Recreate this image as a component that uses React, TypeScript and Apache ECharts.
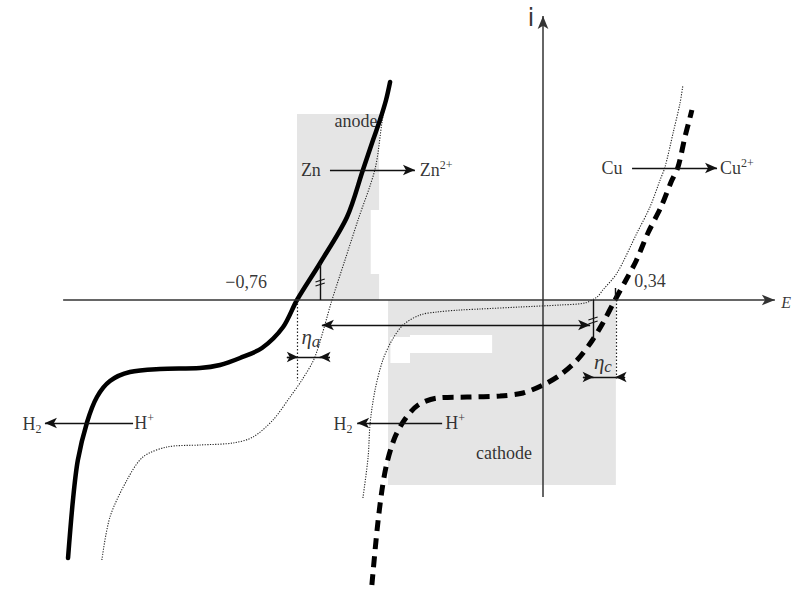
import React, { useEffect, useRef } from "react";
import * as echarts from "echarts";

type P = [number, number];

// Potential E (V) and current i (arbitrary units)
const X_MIN = -1.78736;
const X_MAX = 0.97994;
const Y_MIN = -29.7;
const Y_MAX = 30;

// Zn electrode: total polarisation curve (thick solid)
const zincCurve: P[] = [
  [-1.552, -25.8], [-1.535, -20.0], [-1.518, -16.0], [-1.486, -12.2], [-1.452, -9.7],
  [-1.407, -8.1], [-1.338, -7.2], [-1.234, -6.9], [-1.096, -6.8], [-1.026, -6.5],
  [-0.957, -5.8], [-0.881, -4.8], [-0.808, -2.7], [-0.760, 0], [-0.680, 3.7],
  [-0.587, 8.3], [-0.532, 13.0], [-0.497, 16.0], [-0.473, 18.0], [-0.452, 20.0], [-0.438, 21.8],
];

// Zn electrode: shifted curve (thin dotted)
const zincShifted: P[] = [
  [-1.435, -26.0], [-1.407, -21.7], [-1.348, -18.0], [-1.293, -15.7], [-1.210, -14.7],
  [-1.096, -14.5], [-0.981, -14.3], [-0.912, -13.7], [-0.843, -12.0], [-0.784, -9.7],
  [-0.743, -8.0], [-0.698, -5.7], [-0.639, 0], [-0.594, 4.0], [-0.549, 8.0],
  [-0.490, 13.1], [-0.466, 17.8], [-0.459, 19.0],
];

// Cu electrode: total polarisation curve (thick dashed)
const copperCurve: P[] = [
  [-0.501, -28.5], [-0.483, -23.0], [-0.466, -19.0], [-0.449, -16.3], [-0.421, -13.7],
  [-0.386, -11.9], [-0.341, -10.5], [-0.276, -9.8], [-0.172, -9.7], [-0.058, -9.6],
  [0.022, -9.3], [0.091, -8.5], [0.150, -7.5], [0.209, -6.0], [0.260, -4.1],
  [0.298, -2.3], [0.340, 0], [0.378, 2.0], [0.413, 3.9], [0.454, 6.7],
  [0.499, 9.3], [0.534, 11.8], [0.558, 13.3], [0.582, 16.3], [0.599, 18.2], [0.606, 19.0],
];

// Cu electrode: shifted curve (thin dotted)
const copperShifted: P[] = [
  [-0.532, -19.8], [-0.514, -15.7], [-0.507, -12.3], [-0.490, -9.0], [-0.463, -6.0],
  [-0.431, -4.0], [-0.393, -2.5], [-0.335, -1.5], [-0.276, -1.2], [-0.196, -1.0],
  [-0.127, -0.9], [0.011, -0.7], [0.150, -0.5], [0.236, -0.3], [0.278, 0.3],
  [0.298, 1.0], [0.347, 2.7], [0.416, 6.7], [0.461, 9.3], [0.496, 12.0],
  [0.513, 13.3], [0.541, 16.7], [0.565, 19.7], [0.575, 21.5],
];

// Shaded zones (anode / cathode) and blank patches inside them
const grayZones: [P, P][] = [
  [[-0.760, 18.6], [-0.476, 0]],
  [[-0.445, 0], [0.343, -18.5]],
];
const blankPatches: [P, P][] = [
  [[-0.505, 9.0], [-0.473, 2.6]],
  [[-0.369, -3.5], [-0.085, -5.3]],
  [[-0.437, -3.7], [-0.369, -6.3]],
];

// Axes (with arrow at the end)
const axisLines: [P, P][] = [
  [[-1.569, 0], [0.893, 0]],
  [[0.091, -19.7], [0.091, 28.4]],
];

// Reaction arrows (head at the end)
const reactionArrows: [P, P][] = [
  [[-0.646, 13.0], [-0.352, 13.0]],
  [[0.399, 13.2], [0.693, 13.2]],
  [[-1.327, -12.3], [-1.632, -12.3]],
  [[-0.258, -12.3], [-0.552, -12.3]],
];

// Double arrow between the two mixed potentials
const doubleArrows: [P, P][] = [[[-0.674, -2.5], [0.254, -2.5]]];

// Overpotential dimension lines and their inward heads
const etaLines: [P, P][] = [
  [[-0.795, -5.7], [-0.646, -5.7]],
  [[0.229, -7.7], [0.375, -7.7]],
];
const etaHeads: [P, P][] = [
  [[-0.795, -5.7], [-0.757, -5.7]],
  [[-0.646, -5.7], [-0.682, -5.7]],
  [[0.229, -7.7], [0.266, -7.7]],
  [[0.375, -7.7], [0.342, -7.7]],
];

// Solid ticks and slash marks
const ticks: [P, P][] = [
  [[-0.680, 3.7], [-0.680, 0]],
  [[0.264, 0], [0.264, -4.0]],
  [[0.340, 1.2], [0.340, 0]],
];
const slashes: [P, P][] = [
  [[-0.696, 1.8], [-0.664, 2.1]],
  [[-0.696, 1.4], [-0.664, 1.7]],
  [[0.248, -2.0], [0.280, -1.7]],
  [[0.248, -2.4], [0.280, -2.1]],
];

// Dotted guides
const guides: [P, P][] = [
  [[-0.760, 0], [-0.760, -8.1]],
  [[0.343, 0], [0.343, -8.0]],
];

// Texts
const annotations: { text: string; at: P }[] = [
  { text: "{t|anode}", at: [-0.556, 17.9] },
  { text: "{t|Zn}", at: [-0.712, 13.0] },
  { text: "{t|Zn}{sup|2+}", at: [-0.279, 13.0] },
  { text: "{t|Cu}", at: [0.330, 13.2] },
  { text: "{t|Cu}{sup|2+}", at: [0.762, 13.2] },
  { text: "{t|H}{sub|2}", at: [-1.677, -12.4] },
  { text: "{t|H}{sup|+}", at: [-1.289, -12.3] },
  { text: "{t|H}{sub|2}", at: [-0.601, -12.4] },
  { text: "{t|H}{sup|+}", at: [-0.213, -12.3] },
  { text: "{t|cathode}", at: [-0.044, -15.3] },
  { text: "{t|−0,76}", at: [-0.936, 1.8] },
  { text: "{t|0,34}", at: [0.461, 1.9] },
  { text: "{ei|E}", at: [0.932, -0.2] },
  { text: "{ia|i}", at: [0.049, 28.3] },
  { text: "{eta|η}{es|a}", at: [-0.712, -3.7] },
  { text: "{eta|η}{es|c}", at: [0.298, -6.2] },
];

const SERIF = "'Liberation Serif', 'DejaVu Serif', serif";
const INK = "#000";

const RICH = {
  t: { fontFamily: SERIF, fontSize: 18, color: INK, lineHeight: 22 },
  sup: { fontFamily: SERIF, fontSize: 12, color: INK, lineHeight: 12, verticalAlign: "top" },
  sub: { fontFamily: SERIF, fontSize: 12, color: INK, lineHeight: 12, verticalAlign: "bottom" },
  ei: { fontFamily: SERIF, fontStyle: "italic", fontSize: 16, color: INK, lineHeight: 22 },
  ia: { fontFamily: "'DejaVu Sans', sans-serif", fontSize: 25, color: INK, lineHeight: 28 },
  eta: { fontFamily: SERIF, fontStyle: "italic", fontSize: 21, color: INK, lineHeight: 26 },
  es: { fontFamily: SERIF, fontStyle: "italic", fontSize: 17, color: INK, lineHeight: 16, verticalAlign: "bottom" },
};

function seg(pair: [P, P], startSym: string, endSym: string, style: any, size: number[] = [8, 12]) {
  return [
    { coord: pair[0], symbol: startSym, symbolSize: size, lineStyle: style },
    { coord: pair[1], symbol: endSym, symbolSize: size },
  ];
}

export default function App() {
  const ref = useRef<HTMLDivElement>(null);

  useEffect(() => {
    if (!ref.current) return;
    const chart = echarts.init(ref.current, undefined, { renderer: "svg" });

    const axisStyle = { color: "#333", width: 1.5, type: "solid" };
    const arrowStyle = { color: "#111", width: 1.3, type: "solid" };
    const tickStyle = { color: "#111", width: 1.4, type: "solid" };
    const dotStyle = { color: "#222", width: 1.2, type: [1.5, 2] };

    const markLineData: any[] = [
      ...axisLines.map((p) => seg(p, "none", "arrow", axisStyle, [8, 13])),
      ...reactionArrows.map((p) => seg(p, "none", "arrow", arrowStyle, [8, 12])),
      ...doubleArrows.map((p) => seg(p, "arrow", "arrow", arrowStyle, [8, 12])),
      ...etaLines.map((p) => seg(p, "none", "none", arrowStyle)),
      ...etaHeads.map((p) => seg(p, "none", "arrow", arrowStyle, [8, 11])),
      ...ticks.map((p) => seg(p, "none", "none", tickStyle)),
      ...slashes.map((p) => seg(p, "none", "none", { color: "#111", width: 1.1, type: "solid" })),
      ...guides.map((p) => seg(p, "none", "none", dotStyle)),
    ];

    const areaData: any[] = [
      ...grayZones.map((z) => [
        { coord: z[0], itemStyle: { color: "#e5e5e5" } },
        { coord: z[1] },
      ]),
      ...blankPatches.map((z) => [
        { coord: z[0], itemStyle: { color: "#ffffff" } },
        { coord: z[1] },
      ]),
    ];

    chart.setOption({
      animation: false,
      grid: { left: 0, right: 0, top: 0, bottom: 0 },
      xAxis: { type: "value", min: X_MIN, max: X_MAX, show: false },
      yAxis: { type: "value", min: Y_MIN, max: Y_MAX, show: false },
      series: [
        {
          type: "line",
          name: "Zn shifted",
          data: zincShifted,
          showSymbol: false,
          smooth: 0.3,
          silent: true,
          z: 3,
          lineStyle: { color: "#222", width: 1.1, type: [1.2, 1.4] },
          markArea: { silent: true, z: 1, data: areaData },
        },
        {
          type: "line",
          name: "Cu shifted",
          data: copperShifted,
          showSymbol: false,
          smooth: 0.3,
          silent: true,
          z: 3,
          lineStyle: { color: "#222", width: 1.1, type: [1.2, 1.4] },
        },
        {
          type: "line",
          name: "Zn",
          data: zincCurve,
          showSymbol: false,
          smooth: 0.3,
          silent: true,
          z: 4,
          lineStyle: { color: "#000", width: 4.5, cap: "round", join: "round" },
        },
        {
          type: "line",
          name: "Cu",
          data: copperCurve,
          showSymbol: false,
          smooth: 0.3,
          silent: true,
          z: 4,
          lineStyle: { color: "#000", width: 5, type: [11, 7] },
        },
        {
          type: "scatter",
          name: "labels",
          data: annotations.map((a) => ({ value: a.at, label: { formatter: a.text } })),
          symbolSize: 1,
          silent: true,
          z: 6,
          itemStyle: { color: "rgba(0,0,0,0)" },
          label: { show: true, position: "inside", rich: RICH, color: INK },
          markLine: {
            silent: true,
            z: 5,
            label: { show: false },
            emphasis: { disabled: true },
            precision: 4,
            data: markLineData,
          },
        },
      ],
    });

    return () => chart.dispose();
  }, []);

  return (
    <div
      ref={ref}
      style={{ position: "absolute", left: 0, top: 0, width: 800, height: 597, background: "#fff" }}
    />
  );
}
